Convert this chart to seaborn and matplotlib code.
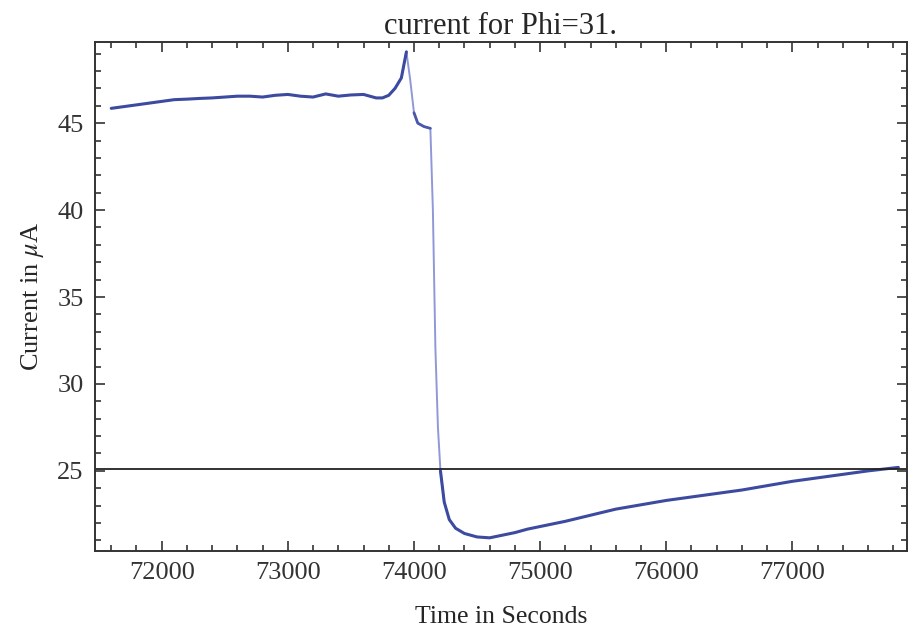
import pandas as pd
import matplotlib
matplotlib.use("Agg")
import matplotlib.pyplot as plt
import seaborn as sns
from matplotlib.ticker import MultipleLocator

# time (s) and current (uA)
time_s = [71600, 71700, 71800, 71900, 72000, 72100, 72200, 72300, 72400, 72500,
          72600, 72700, 72800, 72900, 73000, 73100, 73200, 73300, 73400, 73500,
          73600, 73650, 73700, 73750, 73800, 73850, 73900, 73940, 73970, 74000,
          74030, 74080, 74130, 74150, 74170, 74190, 74210, 74240, 74280, 74330,
          74400, 74500, 74600, 74700, 74800, 74900, 75000, 75200, 75400, 75600,
          75800, 76000, 76200, 76400, 76600, 76800, 77000, 77200, 77400, 77600,
          77840]
current_ua = [45.85, 45.95, 46.05, 46.15, 46.25, 46.35, 46.38, 46.42, 46.45, 46.50,
              46.55, 46.55, 46.50, 46.60, 46.65, 46.55, 46.50, 46.68, 46.55, 46.62,
              46.65, 46.55, 46.45, 46.45, 46.60, 47.00, 47.60, 49.10, 47.50, 45.60,
              45.00, 44.80, 44.70, 40.00, 32.00, 27.50, 25.00, 23.20, 22.20, 21.70,
              21.40, 21.20, 21.15, 21.30, 21.45, 21.65, 21.80, 22.10, 22.45, 22.80,
              23.05, 23.30, 23.50, 23.70, 23.90, 24.15, 24.40, 24.60, 24.80, 25.00,
              25.20]
reference_level = 25.1

df = pd.DataFrame({"time": time_s, "current": current_ua})
# the steep parts are drawn faint in the original
drop = df[(df.time >= 73900) & (df.time <= 74240)]
before = df[df.time <= 73940]
ledge = df[(df.time >= 74000) & (df.time <= 74130)]
after = df[df.time >= 74210]

sns.set_style("ticks")
plt.rcParams["font.family"] = ["Liberation Serif", "DejaVu Serif"]
plt.rcParams["mathtext.fontset"] = "stix"

fig = plt.figure(figsize=(9.12, 6.31), dpi=100)
ax = fig.add_axes([0.104, 0.127, 0.890, 0.806])

sns.lineplot(data=drop, x="time", y="current", ax=ax, color="#8f98d8", linewidth=1.4)
sns.lineplot(data=before, x="time", y="current", ax=ax, color="#3c4aa0", linewidth=2.2)
sns.lineplot(data=ledge, x="time", y="current", ax=ax, color="#4a57aa", linewidth=2.0)
sns.lineplot(data=after, x="time", y="current", ax=ax, color="#3c4aa0", linewidth=2.2)
ax.axhline(reference_level, color="#222222", linewidth=1.3)

ax.set_xlim(71470, 77905)
ax.set_ylim(20.4, 49.65)
ax.xaxis.set_major_locator(MultipleLocator(1000))
ax.xaxis.set_minor_locator(MultipleLocator(200))
ax.yaxis.set_major_locator(MultipleLocator(5))
ax.yaxis.set_minor_locator(MultipleLocator(1))
ax.tick_params(which="both", direction="in", top=True, right=True,
               labelsize=19, colors="#333333", width=1.2)
ax.tick_params(which="major", length=7, pad=8)
ax.tick_params(which="minor", length=4)
for s in ax.spines.values():
    s.set_linewidth(1.4)
    s.set_color("#333333")

ax.set_title("current for Phi=31.", fontsize=22, pad=6)
ax.set_xlabel("Time in Seconds", fontsize=18.5, labelpad=16)
ax.set_ylabel(r"Current in $\mu$A", fontsize=19, labelpad=8)

fig.savefig("out.png", dpi=100)
